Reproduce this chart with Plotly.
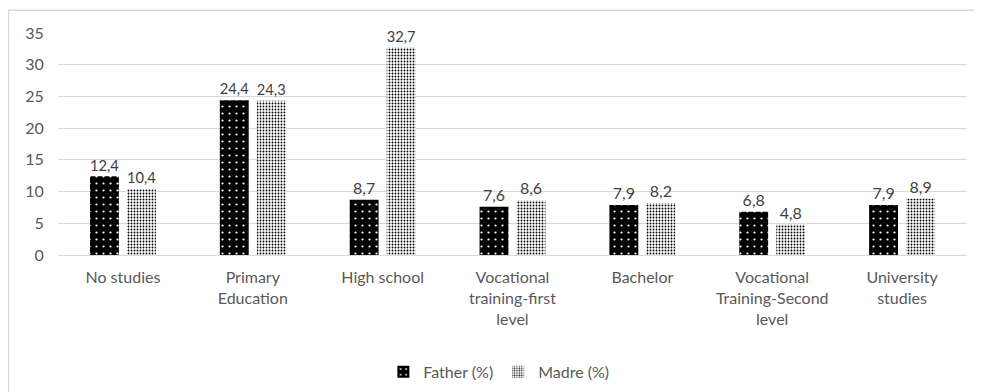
import plotly.graph_objects as go

categories = ["No studies", "Primary<br>Education", "High school",
              "Vocational<br>training-first<br>level", "Bachelor",
              "Vocational<br>Training-Second<br>level", "University<br>studies"]
father = [12.4, 24.4, 8.7, 7.6, 7.9, 6.8, 7.9]
madre = [10.4, 24.3, 32.7, 8.6, 8.2, 4.8, 8.9]
y_ticks = [0, 5, 10, 15, 20, 25, 30, 35]

def fmt(v):
    return f"{v:.1f}".replace(".", ",")

FONT = "Lato, 'Open Sans', sans-serif"
GRAY = "#595959"

fig = go.Figure()
fig.add_trace(go.Bar(
    x=categories, y=father, name="Father (%)",
    text=[fmt(v) for v in father], textposition="outside",
    textfont=dict(size=16, color="#404040", family=FONT),
    cliponaxis=False,
    marker=dict(color="black", line=dict(width=0),
                pattern=dict(shape=".", fgcolor="white", bgcolor="black",
                             size=7, solidity=0.08, fillmode="replace")),
))
fig.add_trace(go.Bar(
    x=categories, y=madre, name="Madre (%)",
    text=[fmt(v) for v in madre], textposition="outside",
    textfont=dict(size=16, color="#404040", family=FONT),
    cliponaxis=False,
    marker=dict(color="white", line=dict(width=0),
                pattern=dict(shape=".", fgcolor="black", bgcolor="white",
                             size=3, solidity=0.3, fillmode="replace")),
))

fig.update_layout(
    width=982, height=392,
    margin=dict(l=50, r=23, t=25, b=144),
    paper_bgcolor="white", plot_bgcolor="white",
    barmode="group", bargap=0.43, bargroupgap=0.22,
    font=dict(family=FONT, size=16, color=GRAY),
    showlegend=True,
    legend=dict(orientation="h", x=0.485, xanchor="center", y=-0.52,
                yanchor="middle", font=dict(size=16, color=GRAY),
                itemwidth=30, tracegroupgap=0),
    xaxis=dict(showgrid=False, showline=True, linecolor="#d9d9d9", linewidth=1,
               ticks="outside", ticklen=8, tickcolor="rgba(0,0,0,0)",
               tickfont=dict(size=16, color=GRAY), tickangle=0),
    yaxis=dict(range=[0, 35], tickvals=y_ticks, showgrid=True,
               gridcolor="#d9d9d9", gridwidth=1, zeroline=False,
               showline=False, ticks="outside", ticklen=10,
               tickcolor="rgba(0,0,0,0)",
               tickfont=dict(size=16, color=GRAY)),
    shapes=[dict(type="rect", xref="paper", yref="paper",
                 x0=-0.0545, x1=1.05, y0=-0.8, y1=1.103,
                 line=dict(color="#d9d9d9", width=1.5), layer="below")],
)

fig.write_html("out.html")
